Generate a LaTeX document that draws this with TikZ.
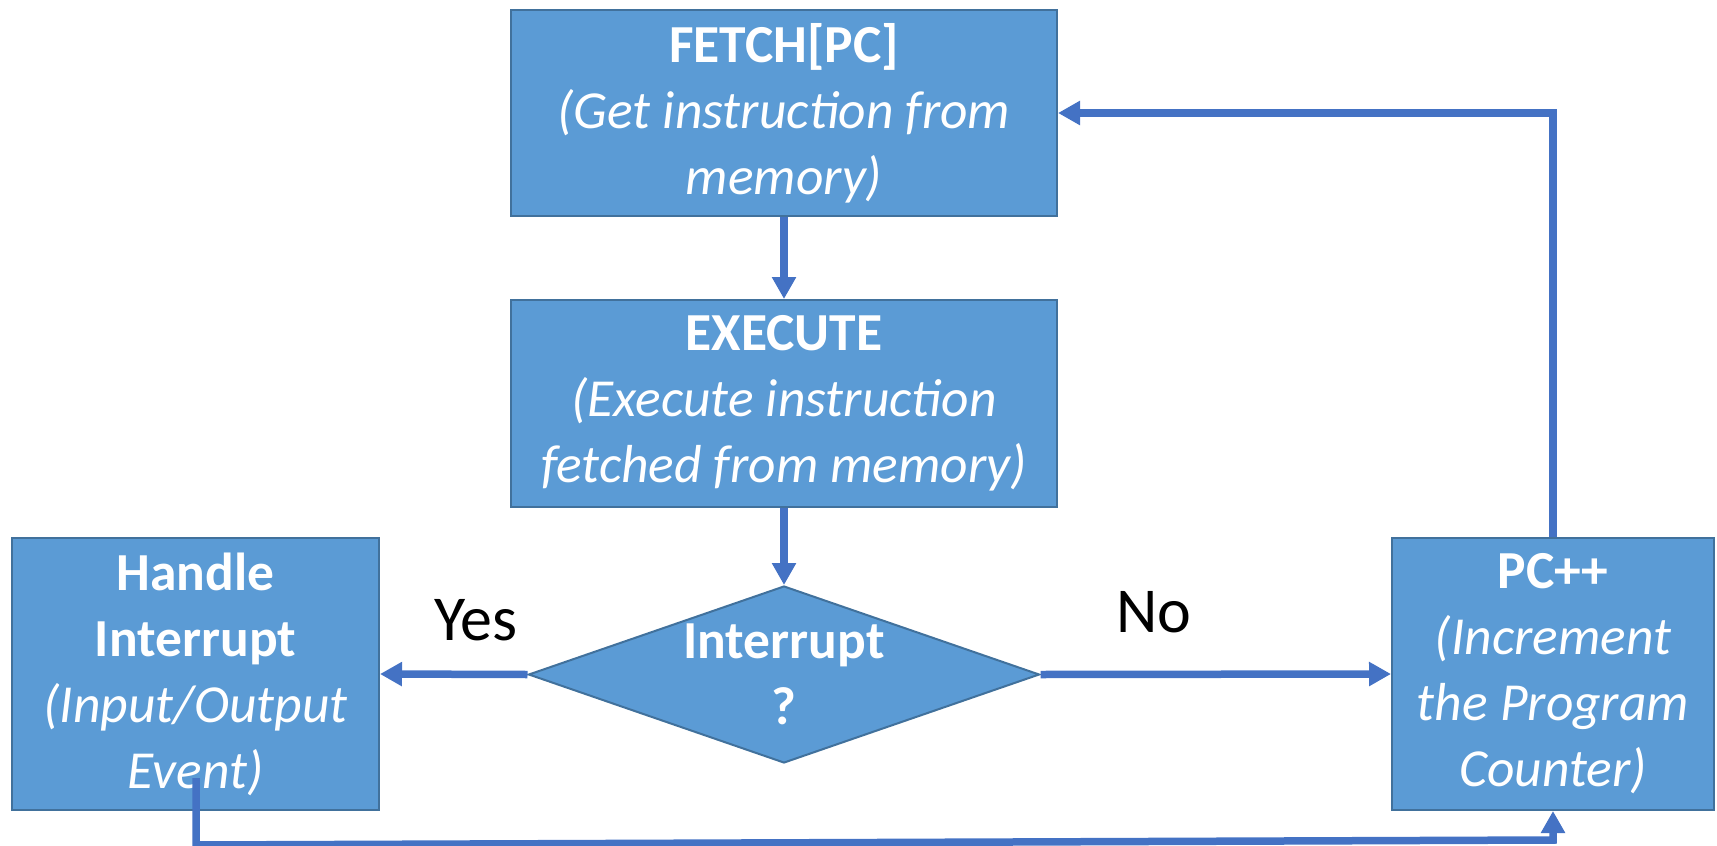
\documentclass[tikz,border=0pt]{standalone}
\usepackage{fontspec}
\setmainfont{Carlito}
\usetikzlibrary{shapes.geometric,arrows.meta}
\definecolor{boxfill}{HTML}{5B9BD5}
\definecolor{boxline}{HTML}{41719C}
\definecolor{arrowblue}{HTML}{4472C4}
\tikzset{
  procbox/.style={draw=boxline, fill=boxfill, line width=2pt, text=white, align=center,
    inner sep=0pt, font=\fontsize{53.5}{66}\selectfont},
  decbox/.style={draw=boxline, fill=boxfill, line width=2pt, shape=diamond, inner sep=0pt,
    minimum width=511pt, minimum height=177pt},
  conn/.style={draw=arrowblue, line width=7.5pt, -{Triangle[length=22pt,width=23pt]}},
  lbl/.style={font=\fontsize{64}{76}\selectfont, text=black}
}
\begin{document}
\begin{tikzpicture}[x=1pt,y=-1pt]
\useasboundingbox (0,0) rectangle (1717,846);
\node[procbox, minimum width=546pt, minimum height=206pt] (fetch) at (784,113)
  {\textbf{FETCH[PC]}\\\textit{(Get instruction from}\\\textit{memory)}};
\node[procbox, minimum width=546pt, minimum height=207pt] (exec) at (784,403.5)
  {\textbf{EXECUTE}\\\textit{(Execute instruction}\\\textit{fetched from memory)}};
\node[decbox, label={[text=white, align=center, font=\fontsize{53.5}{66}\selectfont\bfseries]center:Interrupt\\?}] (dec) at (784,674.5) {};
\node[procbox, minimum width=367pt, minimum height=272pt] (handle) at (195.5,674)
  {\textbf{Handle}\\\textbf{Interrupt}\\\textit{(Input/Output}\\\textit{Event)}};
\node[procbox, minimum width=322pt, minimum height=272pt] (pc) at (1553,674)
  {\textbf{PC++}\\\textit{(Increment}\\\textit{the Program}\\\textit{Counter)}};
\node[lbl] (yes) at (476,620) {Yes};
\node[lbl] (no) at (1154,612) {No};
\coordinate (hstart) at (196,778);
\coordinate (hcorner) at (196,845);
\coordinate (pcorner) at (1553,840);
\draw[conn] (exec.south) -- (dec.north);
\draw[conn] (fetch.south) -- (exec.north);
\draw[conn] (dec.west) -- (handle.east);
\draw[conn] (dec.east) -- (pc.west);
\draw[conn] (pc.north) |- (fetch.east);
\draw[conn] (hstart) -- (hcorner) -- (pcorner) -- (pc.south);
\end{tikzpicture}
\end{document}
